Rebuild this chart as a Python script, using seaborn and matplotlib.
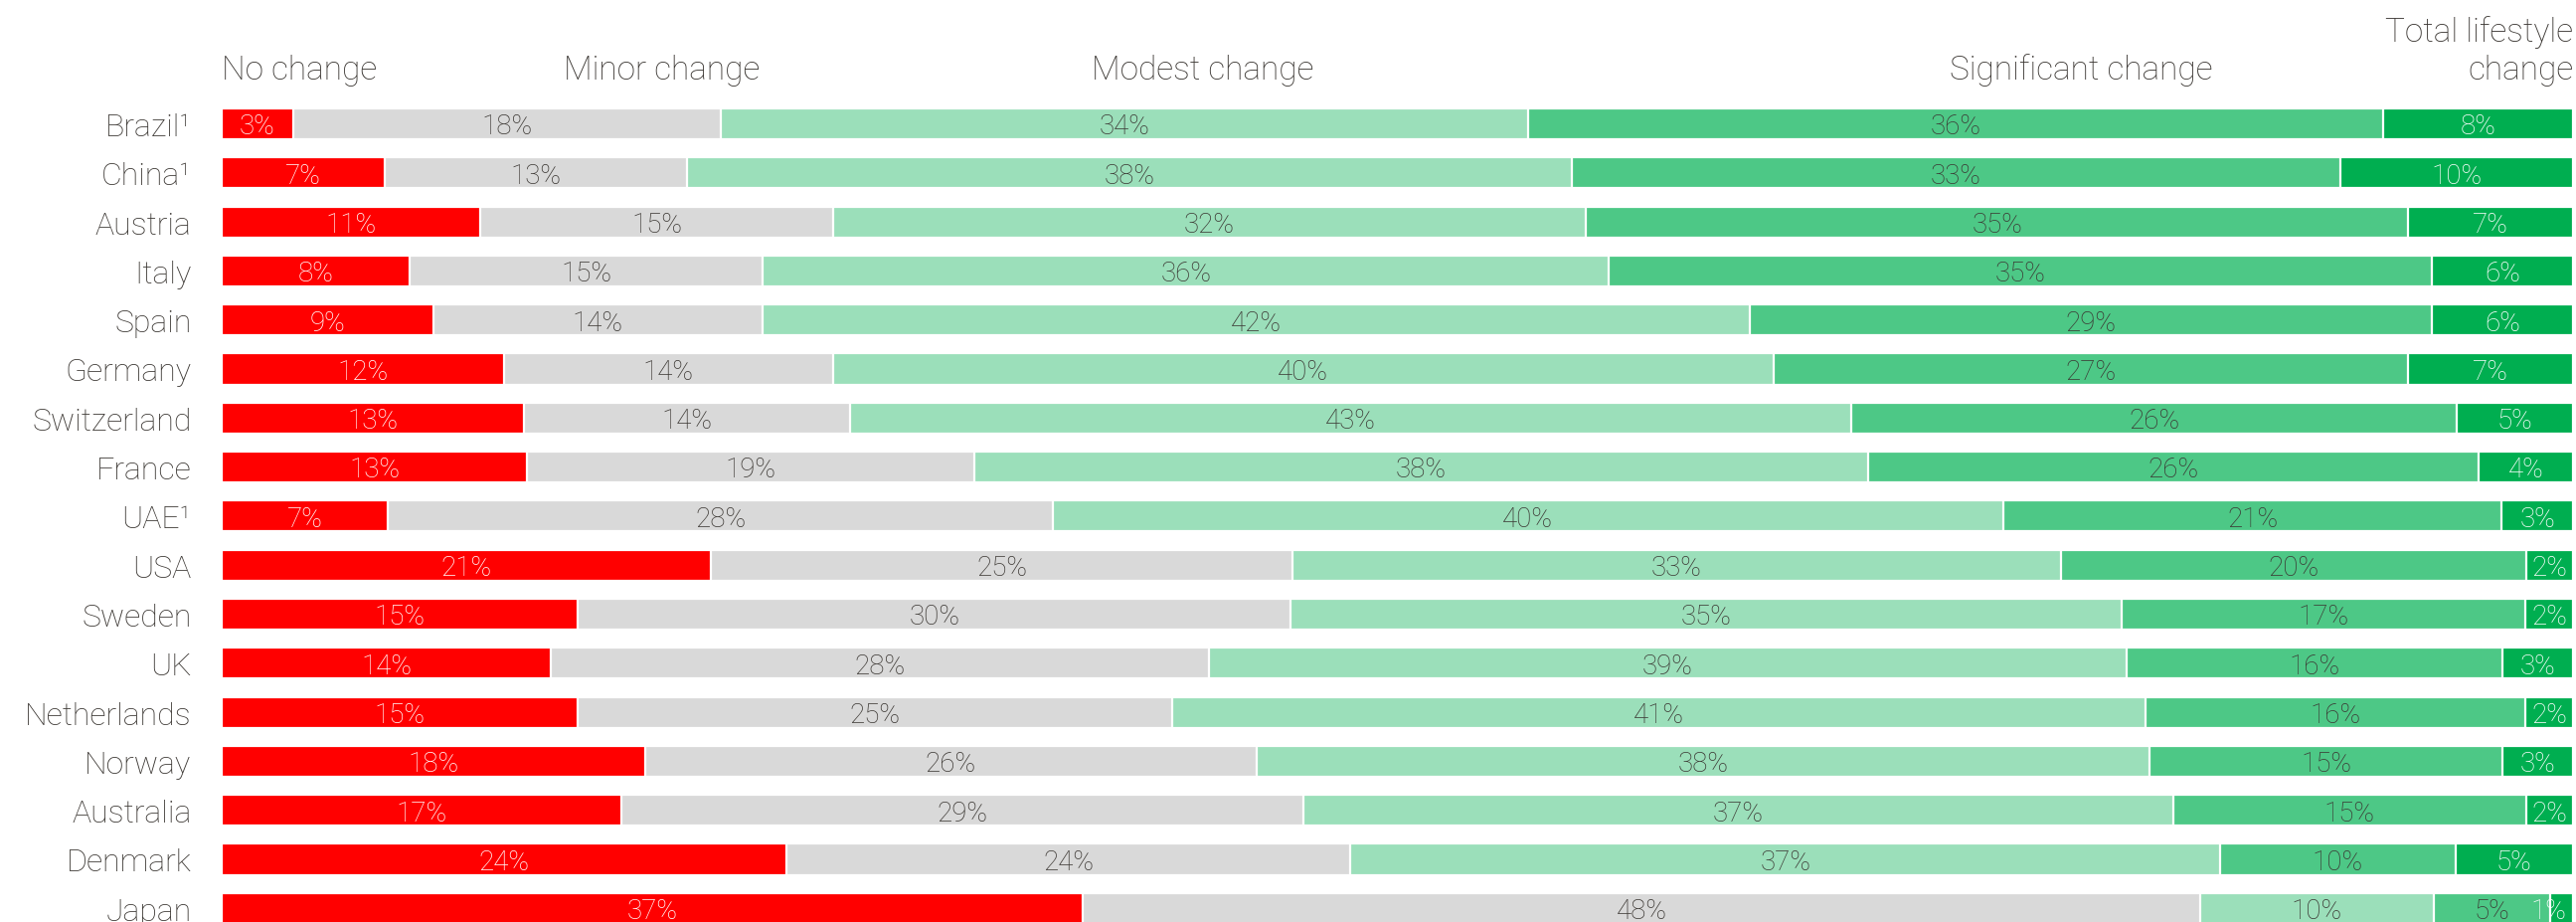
import numpy as np
import pandas as pd
import matplotlib
matplotlib.use("Agg")
import matplotlib.pyplot as plt
import seaborn as sns

# Survey: how much respondents expect to change their lifestyle, by country (%)
countries = ["Brazil¹", "China¹", "Austria", "Italy", "Spain", "Germany",
             "Switzerland", "France", "UAE¹", "USA", "Sweden", "UK",
             "Netherlands", "Norway", "Australia", "Denmark", "Japan"]
categories = ["No change", "Minor change", "Modest change",
              "Significant change", "Total lifestyle change"]
no_change = [3, 7, 11, 8, 9, 12, 13, 13, 7, 21, 15, 14, 15, 18, 17, 24, 37]
minor_change = [18, 13, 15, 15, 14, 14, 14, 19, 28, 25, 30, 28, 25, 26, 29, 24, 48]
modest_change = [34, 38, 32, 36, 42, 40, 43, 38, 40, 33, 35, 39, 41, 38, 37, 37, 10]
significant_change = [36, 33, 35, 35, 29, 27, 26, 26, 21, 20, 17, 16, 16, 15, 15, 10, 5]
total_change = [8, 10, 7, 6, 6, 7, 5, 4, 3, 2, 2, 3, 2, 3, 2, 5, 1]

colors = ["#FF0000", "#D9D9D9", "#9BDFBA", "#4DC886", "#00AE50"]
text_dark = "#3B3733"
label_colors = ["white", text_dark, text_dark, text_dark, "white"]

values = np.array([no_change, minor_change, modest_change,
                   significant_change, total_change]).T
# each row is shown as a 100% bar
shares = values / values.sum(axis=1, keepdims=True) * 100
cum = shares.cumsum(axis=1)

df = pd.DataFrame(cum, columns=categories)
df["country"] = countries

sns.set_style("white")
plt.rcParams["font.family"] = ["Roboto", "DejaVu Sans"]

W, H = 2591, 928
fig = plt.figure(figsize=(W / 100, H / 100), dpi=100)
left_px, right_px = 223, 2588
ax = fig.add_axes([left_px / W, 0, (right_px - left_px) / W, 1])

# stacked bars: draw cumulative totals from the widest down
for k in reversed(range(len(categories))):
    sns.barplot(data=df, x=categories[k], y="country", orient="h",
                color=colors[k], saturation=1, width=0.63,
                edgecolor="white", linewidth=1.6, ax=ax)

row0_px, pitch_px = 125.5, 49.3
ax.set_ylim((H - row0_px) / pitch_px, -row0_px / pitch_px)
ax.set_xlim(0, 100)

# segment value labels
for i in range(len(countries)):
    for k in range(len(categories)):
        v = values[i, k]
        end = cum[i, k]
        w = shares[i, k]
        if w < 1.5:
            x, ha = end - 0.3, "right"
        else:
            x, ha = end - w / 2, "center"
        ax.text(x, i + 0.2, f"{v}%", ha=ha, va="baseline",
                fontsize=20, color=label_colors[k], fontweight="light")

# column headers
trans = ax.get_yaxis_transform()
hdr_y = (80 - row0_px) / pitch_px
hdr_kw = dict(fontsize=24, color=text_dark, va="baseline", fontweight="light")
ax.text(0.0, hdr_y, "No change", ha="left", transform=trans, **hdr_kw)
ax.text(0.187, hdr_y, "Minor change", ha="center", transform=trans, **hdr_kw)
ax.text(0.417, hdr_y, "Modest change", ha="center", transform=trans, **hdr_kw)
ax.text(0.791, hdr_y, "Significant change", ha="center", transform=trans, **hdr_kw)
ax.text(1.0, (41.7 - row0_px) / pitch_px, "Total lifestyle", ha="right",
        transform=trans, **hdr_kw)
ax.text(1.0, hdr_y, "change", ha="right", transform=trans, **hdr_kw)

ax.set_xlabel("")
ax.set_ylabel("")
ax.set_xticks([])
ax.tick_params(axis="y", length=0, pad=22, labelsize=23, labelcolor=text_dark)
for lbl in ax.get_yticklabels():
    lbl.set_fontweight("light")
for s in ax.spines.values():
    s.set_visible(False)

fig.savefig("out.png", dpi=100)
